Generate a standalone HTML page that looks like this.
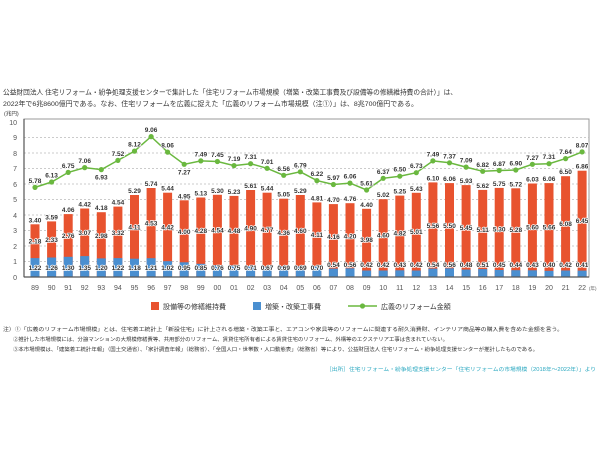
<!DOCTYPE html>
<html><head><meta charset="utf-8"><style>
body{margin:0;background:#fff;}
svg{display:block;font-family:"Liberation Sans","Noto Sans CJK JP",sans-serif;}
.v{font-size:6.5px;font-weight:bold;fill:#333;text-anchor:middle;paint-order:stroke;stroke:#fff;stroke-width:1.6px;stroke-linejoin:round;}
.t{font-size:6.8px;fill:#333;}
.ax{font-size:7px;fill:#555;}
</style></head><body>
<svg width="600" height="450" viewBox="0 0 600 450">
<text class="t" x="3" y="94.5" textLength="454" lengthAdjust="spacingAndGlyphs">公益財団法人 住宅リフォーム・紛争処理支援センターで集計した「住宅リフォーム市場規模（増築・改築工事費及び設備等の修繕維持費の合計）」は、</text>
<text class="t" x="3" y="106" textLength="415" lengthAdjust="spacingAndGlyphs">2022年で6兆8600億円である。なお、住宅リフォームを広義に捉えた「広義のリフォーム市場規模（注①）」は、8兆700億円である。</text>
<text class="t" x="4" y="115.5" style="font-size:5.5px">(兆円)</text>
<rect x="24" y="119" width="565" height="158" fill="none" stroke="#999" stroke-width="1"/>
<g stroke="#bbb" stroke-dasharray="2,2" stroke-width="0.7">
<line x1="24" x2="589" y1="261.5" y2="261.5"/><line x1="24" x2="589" y1="246" y2="246"/><line x1="24" x2="589" y1="230.5" y2="230.5"/><line x1="24" x2="589" y1="215" y2="215"/><line x1="24" x2="589" y1="199.5" y2="199.5"/><line x1="24" x2="589" y1="184" y2="184"/><line x1="24" x2="589" y1="168.5" y2="168.5"/><line x1="24" x2="589" y1="153" y2="153"/><line x1="24" x2="589" y1="137.5" y2="137.5"/>
</g>
<g class="ax" text-anchor="end">
<text x="17" y="280">0</text><text x="17" y="264">1</text><text x="17" y="249">2</text><text x="17" y="233">3</text><text x="17" y="218">4</text><text x="17" y="202">5</text><text x="17" y="187">6</text><text x="17" y="171">7</text><text x="17" y="156">8</text><text x="17" y="140">9</text><text x="17" y="125">10</text>
</g>
<g fill="#e8532f">
<rect x="30.5" y="224.3" width="9" height="52.7"/><rect x="47.1" y="221.4" width="9" height="55.6"/><rect x="63.7" y="214.1" width="9" height="62.9"/><rect x="80.2" y="208.5" width="9" height="68.5"/><rect x="96.8" y="212.2" width="9" height="64.8"/><rect x="113.4" y="206.6" width="9" height="70.4"/><rect x="130" y="195" width="9" height="82"/><rect x="146.6" y="188" width="9" height="89"/><rect x="163.1" y="192.7" width="9" height="84.3"/><rect x="179.7" y="200.3" width="9" height="76.7"/><rect x="196.3" y="197.5" width="9" height="79.5"/><rect x="212.9" y="194.8" width="9" height="82.2"/><rect x="229.5" y="195.9" width="9" height="81.1"/><rect x="246.1" y="190" width="9" height="87"/><rect x="262.6" y="192.7" width="9" height="84.3"/><rect x="279.2" y="198.7" width="9" height="78.3"/><rect x="295.8" y="195" width="9" height="82"/><rect x="312.4" y="202.4" width="9" height="74.6"/><rect x="328.9" y="204.1" width="9" height="72.9"/><rect x="345.5" y="203.2" width="9" height="73.8"/><rect x="362.1" y="208.8" width="9" height="68.2"/><rect x="378.7" y="199.2" width="9" height="77.8"/><rect x="395.3" y="195.6" width="9" height="81.4"/><rect x="411.8" y="192.8" width="9" height="84.2"/><rect x="428.4" y="182.4" width="9" height="94.6"/><rect x="445" y="183.1" width="9" height="93.9"/><rect x="461.6" y="185.1" width="9" height="91.9"/><rect x="478.2" y="189.9" width="9" height="87.1"/><rect x="494.7" y="187.9" width="9" height="89.1"/><rect x="511.3" y="188.3" width="9" height="88.7"/><rect x="527.9" y="183.5" width="9" height="93.5"/><rect x="544.5" y="183.1" width="9" height="93.9"/><rect x="561.1" y="176.2" width="9" height="100.8"/><rect x="577.6" y="170.7" width="9" height="106.3"/>
</g>
<g fill="#4a8fd0">
<rect x="30.5" y="258.1" width="9" height="18.9"/><rect x="47.1" y="257.5" width="9" height="19.5"/><rect x="63.7" y="256.8" width="9" height="20.2"/><rect x="80.2" y="256.1" width="9" height="20.9"/><rect x="96.8" y="258.4" width="9" height="18.6"/><rect x="113.4" y="258.1" width="9" height="18.9"/><rect x="130" y="258.7" width="9" height="18.3"/><rect x="146.6" y="258.2" width="9" height="18.8"/><rect x="163.1" y="261.2" width="9" height="15.8"/><rect x="179.7" y="262.3" width="9" height="14.7"/><rect x="196.3" y="263.8" width="9" height="13.2"/><rect x="212.9" y="265.2" width="9" height="11.8"/><rect x="229.5" y="265.4" width="9" height="11.6"/><rect x="246.1" y="266" width="9" height="11"/><rect x="262.6" y="266.6" width="9" height="10.4"/><rect x="279.2" y="266.3" width="9" height="10.7"/><rect x="295.8" y="266.3" width="9" height="10.7"/><rect x="312.4" y="266.1" width="9" height="10.9"/><rect x="328.9" y="268.6" width="9" height="8.4"/><rect x="345.5" y="268.3" width="9" height="8.7"/><rect x="362.1" y="270.5" width="9" height="6.5"/><rect x="378.7" y="270.5" width="9" height="6.5"/><rect x="395.3" y="270.3" width="9" height="6.7"/><rect x="411.8" y="270.5" width="9" height="6.5"/><rect x="428.4" y="268.6" width="9" height="8.4"/><rect x="445" y="268.3" width="9" height="8.7"/><rect x="461.6" y="269.6" width="9" height="7.4"/><rect x="478.2" y="269.1" width="9" height="7.9"/><rect x="494.7" y="270" width="9" height="7"/><rect x="511.3" y="270.2" width="9" height="6.8"/><rect x="527.9" y="270.3" width="9" height="6.7"/><rect x="544.5" y="270.8" width="9" height="6.2"/><rect x="561.1" y="270.5" width="9" height="6.5"/><rect x="577.6" y="270.6" width="9" height="6.4"/>
</g>
<line x1="24" y1="277" x2="589" y2="277" stroke="#555" stroke-width="1.2"/>
<line x1="24" y1="119" x2="24" y2="277" stroke="#555" stroke-width="1.2"/>
<g class="v">
<text x="35" y="222.3">3.40</text><text x="51.6" y="219.4">3.59</text><text x="68.2" y="212.1">4.06</text><text x="84.7" y="206.5">4.42</text><text x="101.3" y="210.2">4.18</text><text x="117.9" y="204.6">4.54</text><text x="134.5" y="193">5.29</text><text x="151.1" y="186">5.74</text><text x="167.6" y="190.7">5.44</text><text x="184.2" y="198.3">4.95</text><text x="200.8" y="195.5">5.13</text><text x="217.4" y="192.8">5.30</text><text x="234" y="193.9">5.23</text><text x="250.6" y="188">5.61</text><text x="267.1" y="190.7">5.44</text><text x="283.7" y="196.7">5.05</text><text x="300.3" y="193">5.29</text><text x="316.9" y="200.4">4.81</text><text x="333.4" y="202.1">4.70</text><text x="350" y="201.2">4.76</text><text x="366.6" y="206.8">4.40</text><text x="383.2" y="197.2">5.02</text><text x="399.8" y="193.6">5.25</text><text x="416.3" y="190.8">5.43</text><text x="432.9" y="180.4">6.10</text><text x="449.5" y="181.1">6.06</text><text x="466.1" y="183.1">5.93</text><text x="482.7" y="187.9">5.62</text><text x="499.2" y="185.9">5.75</text><text x="515.8" y="186.3">5.72</text><text x="532.4" y="181.5">6.03</text><text x="549" y="181.1">6.06</text><text x="565.6" y="174.2">6.50</text><text x="582.1" y="168.7">6.86</text>
</g>
<g class="v">
<text x="35" y="243.7">2.18</text><text x="51.6" y="242">2.33</text><text x="68.2" y="238">2.76</text><text x="84.7" y="234.8">3.07</text><text x="101.3" y="237.8">2.98</text><text x="117.9" y="234.9">3.32</text><text x="134.5" y="229.4">4.11</text><text x="151.1" y="225.6">4.53</text><text x="167.6" y="229.5">4.42</text><text x="184.2" y="233.8">4.00</text><text x="200.8" y="233.2">4.28</text><text x="217.4" y="232.5">4.54</text><text x="234" y="233.2">4.48</text><text x="250.6" y="230.5">4.90</text><text x="267.1" y="232.2">4.77</text><text x="283.7" y="235">4.36</text><text x="300.3" y="233.2">4.60</text><text x="316.9" y="236.8">4.11</text><text x="333.4" y="238.9">4.16</text><text x="350" y="238.3">4.20</text><text x="366.6" y="242.2">3.98</text><text x="383.2" y="237.4">4.60</text><text x="399.8" y="235.5">4.82</text><text x="416.3" y="234.2">5.01</text><text x="432.9" y="228">5.56</text><text x="449.5" y="228.2">5.50</text><text x="466.1" y="229.9">5.45</text><text x="482.7" y="232">5.11</text><text x="499.2" y="231.5">5.30</text><text x="515.8" y="231.8">5.28</text><text x="532.4" y="229.4">5.60</text><text x="549" y="229.5">5.66</text><text x="565.6" y="225.9">6.08</text><text x="582.1" y="223.2">6.45</text>
</g>
<g class="v">
<text x="35" y="270">1.22</text><text x="51.6" y="270">1.26</text><text x="68.2" y="270">1.30</text><text x="84.7" y="270">1.35</text><text x="101.3" y="270">1.20</text><text x="117.9" y="270">1.22</text><text x="134.5" y="270">1.18</text><text x="151.1" y="270">1.21</text><text x="167.6" y="270">1.02</text><text x="184.2" y="270">0.95</text><text x="200.8" y="270">0.85</text><text x="217.4" y="270">0.76</text><text x="234" y="270">0.75</text><text x="250.6" y="270">0.71</text><text x="267.1" y="270">0.67</text><text x="283.7" y="270">0.69</text><text x="300.3" y="270">0.69</text><text x="316.9" y="270">0.70</text><text x="333.4" y="267">0.54</text><text x="350" y="267">0.56</text><text x="366.6" y="267">0.42</text><text x="383.2" y="267">0.42</text><text x="399.8" y="267">0.43</text><text x="416.3" y="267">0.42</text><text x="432.9" y="267">0.54</text><text x="449.5" y="267">0.56</text><text x="466.1" y="267">0.48</text><text x="482.7" y="267">0.51</text><text x="499.2" y="267">0.45</text><text x="515.8" y="267">0.44</text><text x="532.4" y="267">0.43</text><text x="549" y="267">0.40</text><text x="565.6" y="267">0.42</text><text x="582.1" y="267">0.41</text>
</g>
<polyline fill="none" stroke="#6ab83f" stroke-width="1.5" points="35,187.4 51.6,182 68.2,172.4 84.7,167.6 101.3,169.6 117.9,160.4 134.5,151.1 151.1,136.6 167.6,152.1 184.2,164.3 200.8,160.9 217.4,161.5 234,165.6 250.6,163.7 267.1,168.3 283.7,175.3 300.3,171.8 316.9,180.6 333.4,184.5 350,183.1 366.6,190 383.2,178.3 399.8,176.2 416.3,172.7 432.9,160.9 449.5,162.8 466.1,167.1 482.7,171.3 499.2,170.5 515.8,170 532.4,164.3 549,163.7 565.6,158.6 582.1,151.9"/>
<g fill="#6ab83f">
<circle cx="35" cy="187.4" r="2.6"/><circle cx="51.6" cy="182" r="2.6"/><circle cx="68.2" cy="172.4" r="2.6"/><circle cx="84.7" cy="167.6" r="2.6"/><circle cx="101.3" cy="169.6" r="2.6"/><circle cx="117.9" cy="160.4" r="2.6"/><circle cx="134.5" cy="151.1" r="2.6"/><circle cx="151.1" cy="136.6" r="2.6"/><circle cx="167.6" cy="152.1" r="2.6"/><circle cx="184.2" cy="164.3" r="2.6"/><circle cx="200.8" cy="160.9" r="2.6"/><circle cx="217.4" cy="161.5" r="2.6"/><circle cx="234" cy="165.6" r="2.6"/><circle cx="250.6" cy="163.7" r="2.6"/><circle cx="267.1" cy="168.3" r="2.6"/><circle cx="283.7" cy="175.3" r="2.6"/><circle cx="300.3" cy="171.8" r="2.6"/><circle cx="316.9" cy="180.6" r="2.6"/><circle cx="333.4" cy="184.5" r="2.6"/><circle cx="350" cy="183.1" r="2.6"/><circle cx="366.6" cy="190" r="2.6"/><circle cx="383.2" cy="178.3" r="2.6"/><circle cx="399.8" cy="176.2" r="2.6"/><circle cx="416.3" cy="172.7" r="2.6"/><circle cx="432.9" cy="160.9" r="2.6"/><circle cx="449.5" cy="162.8" r="2.6"/><circle cx="466.1" cy="167.1" r="2.6"/><circle cx="482.7" cy="171.3" r="2.6"/><circle cx="499.2" cy="170.5" r="2.6"/><circle cx="515.8" cy="170" r="2.6"/><circle cx="532.4" cy="164.3" r="2.6"/><circle cx="549" cy="163.7" r="2.6"/><circle cx="565.6" cy="158.6" r="2.6"/><circle cx="582.1" cy="151.9" r="2.6"/>
</g>
<g class="v">
<text x="35" y="182.9">5.78</text><text x="51.6" y="177.5">6.13</text><text x="68.2" y="167.9">6.75</text><text x="84.7" y="163.1">7.06</text><text x="101.3" y="179.6">6.93</text><text x="117.9" y="155.9">7.52</text><text x="134.5" y="146.6">8.12</text><text x="151.1" y="132.1">9.06</text><text x="167.6" y="147.6">8.06</text><text x="184.2" y="174.3">7.27</text><text x="200.8" y="156.4">7.49</text><text x="217.4" y="157">7.45</text><text x="234" y="161.1">7.19</text><text x="250.6" y="159.2">7.31</text><text x="267.1" y="163.8">7.01</text><text x="283.7" y="170.8">6.56</text><text x="300.3" y="167.3">6.79</text><text x="316.9" y="176.1">6.22</text><text x="333.4" y="180">5.97</text><text x="350" y="178.6">6.06</text><text x="366.6" y="185.5">5.61</text><text x="383.2" y="173.8">6.37</text><text x="399.8" y="171.7">6.50</text><text x="416.3" y="168.2">6.73</text><text x="432.9" y="156.4">7.49</text><text x="449.5" y="158.3">7.37</text><text x="466.1" y="162.6">7.09</text><text x="482.7" y="166.8">6.82</text><text x="499.2" y="166">6.87</text><text x="515.8" y="165.5">6.90</text><text x="532.4" y="159.8">7.27</text><text x="549" y="159.2">7.31</text><text x="565.6" y="154.1">7.64</text><text x="582.1" y="147.4">8.07</text>
</g>
<g class="ax" text-anchor="middle">
<text x="35" y="290">89</text><text x="51.6" y="290">90</text><text x="68.2" y="290">91</text><text x="84.7" y="290">92</text><text x="101.3" y="290">93</text><text x="117.9" y="290">94</text><text x="134.5" y="290">95</text><text x="151.1" y="290">96</text><text x="167.6" y="290">97</text><text x="184.2" y="290">98</text><text x="200.8" y="290">99</text><text x="217.4" y="290">00</text><text x="234" y="290">01</text><text x="250.6" y="290">02</text><text x="267.1" y="290">03</text><text x="283.7" y="290">04</text><text x="300.3" y="290">05</text><text x="316.9" y="290">06</text><text x="333.4" y="290">07</text><text x="350" y="290">08</text><text x="366.6" y="290">09</text><text x="383.2" y="290">10</text><text x="399.8" y="290">11</text><text x="416.3" y="290">12</text><text x="432.9" y="290">13</text><text x="449.5" y="290">14</text><text x="466.1" y="290">15</text><text x="482.7" y="290">16</text><text x="499.2" y="290">17</text><text x="515.8" y="290">18</text><text x="532.4" y="290">19</text><text x="549" y="290">20</text><text x="565.6" y="290">21</text><text x="582.1" y="290">22</text>
</g>
<text x="589" y="290" style="font-size:4.5px;fill:#555">(年)</text>
<rect x="151" y="302" width="8" height="8" fill="#e8532f"/>
<text class="t" x="163" y="309" style="font-size:7px">設備等の修繕維持費</text>
<rect x="253" y="302" width="8" height="8" fill="#4a8fd0"/>
<text class="t" x="265" y="309" style="font-size:7px">増築・改築工事費</text>
<line x1="348" y1="306" x2="377" y2="306" stroke="#6ab83f" stroke-width="1.5"/>
<circle cx="362.5" cy="306" r="2.6" fill="#6ab83f"/>
<text class="t" x="381" y="309" style="font-size:7px">広義のリフォーム金額</text>
<g class="t" style="font-size:5.2px">
<text x="3" y="331" textLength="560" lengthAdjust="spacingAndGlyphs">注）①「広義のリフォーム市場規模」とは、住宅着工統計上「新設住宅」に計上される増築・改築工事と、エアコンや家具等のリフォームに関連する耐久消費財、インテリア商品等の購入費を含めた金額を言う。</text>
<text x="13" y="341" textLength="435" lengthAdjust="spacingAndGlyphs">②推計した市場規模には、分譲マンションの大規模修繕費等、共用部分のリフォーム、賃貸住宅所有者による賃貸住宅のリフォーム、外構等のエクステリア工事は含まれていない。</text>
<text x="13" y="351" textLength="525" lengthAdjust="spacingAndGlyphs">③本市場規模は、「建築着工統計年報」（国土交通省）、「家計調査年報」（総務省）、「全国人口・世帯数・人口動態表」（総務省）等により、公益財団法人 住宅リフォーム・紛争処理支援センターが推計したものである。</text>
</g>
<text x="326" y="371" textLength="270" lengthAdjust="spacingAndGlyphs" style="font-size:5.2px;fill:#2aa8c0">［出所］住宅リフォーム・紛争処理支援センター「住宅リフォームの市場規模（2018年～2022年）」より</text>
</svg>
</body></html>
